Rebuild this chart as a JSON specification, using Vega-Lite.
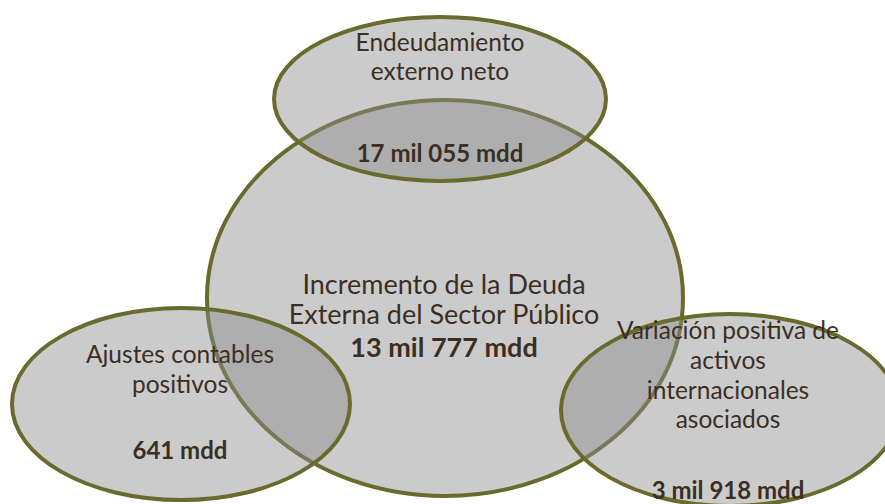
{
  "$schema": "https://vega.github.io/schema/vega-lite/v6.json",
  "width": 885,
  "height": 504,
  "autosize": "none",
  "padding": 0,
  "background": "white",
  "config": {"view": {"stroke": null}},
  "datasets": {
    "shapes": [
      {"name": "Incremento", "cx": 445, "cy": 298},
      {"name": "Endeudamiento", "cx": 440, "cy": 99},
      {"name": "Ajustes", "cx": 181, "cy": 404},
      {"name": "Variacion", "cx": 730, "cy": 410}
    ],
    "labels": [
      {"text": "Endeudamiento", "cx": 440, "cy": 44, "kind": "normal"},
      {"text": "externo neto", "cx": 440, "cy": 73, "kind": "normal"},
      {"text": "17 mil 055 mdd", "cx": 440, "cy": 155, "kind": "bold"},
      {"text": "Incremento de la Deuda", "cx": 444, "cy": 286, "kind": "main"},
      {"text": "Externa del Sector Público", "cx": 444, "cy": 316, "kind": "main"},
      {"text": "13 mil 777 mdd", "cx": 444, "cy": 349, "kind": "mainbold"},
      {"text": "Ajustes contables", "cx": 180, "cy": 356, "kind": "normal"},
      {"text": "positivos", "cx": 180, "cy": 386, "kind": "normal"},
      {"text": "641 mdd", "cx": 180, "cy": 452, "kind": "bold"},
      {"text": "Variación positiva de", "cx": 728, "cy": 332, "kind": "normal"},
      {"text": "activos", "cx": 728, "cy": 362, "kind": "normal"},
      {"text": "internacionales", "cx": 728, "cy": 392, "kind": "normal"},
      {"text": "asociados", "cx": 728, "cy": 421, "kind": "normal"},
      {"text": "3 mil 918 mdd", "cx": 728, "cy": 492, "kind": "bold"}
    ]
  },
  "layer": [
    {
      "data": {"name": "shapes"},
      "mark": {"type": "point", "filled": true, "fill": "#8c8c8c", "fillOpacity": 0.45, "stroke": "#6a6a2e", "strokeWidth": 4, "strokeOpacity": 1, "opacity": 1, "size": 4},
      "encoding": {
        "x": {"field": "cx", "type": "quantitative", "scale": {"domain": [0, 885]}, "axis": null},
        "y": {"field": "cy", "type": "quantitative", "scale": {"domain": [0, 504], "reverse": true}, "axis": null},
        "shape": {
          "field": "name", "type": "nominal", "legend": null,
          "scale": {
            "domain": ["Incremento", "Endeudamiento", "Ajustes", "Variacion"],
            "range": [
              "M-238,0A238,198 0 1,0 238,0A238,198 0 1,0 -238,0Z",
              "M-166,0A166,82 0 1,0 166,0A166,82 0 1,0 -166,0Z",
              "M-169,0A169,96 0 1,0 169,0A169,96 0 1,0 -169,0Z",
              "M-169,0A169,96 0 1,0 169,0A169,96 0 1,0 -169,0Z"
            ]
          }
        }
      }
    },
    {
      "data": {"name": "labels"},
      "transform": [{"filter": "datum.kind == 'normal'"}],
      "mark": {"type": "text", "font": "Lato", "fontSize": 24.5, "color": "#3b2f24", "align": "center", "baseline": "middle"},
      "encoding": {
        "x": {"field": "cx", "type": "quantitative", "scale": {"domain": [0, 885]}, "axis": null},
        "y": {"field": "cy", "type": "quantitative", "scale": {"domain": [0, 504], "reverse": true}, "axis": null},
        "text": {"field": "text"}
      }
    },
    {
      "data": {"name": "labels"},
      "transform": [{"filter": "datum.kind == 'main'"}],
      "mark": {"type": "text", "font": "Lato", "fontSize": 27, "color": "#3b2f24", "align": "center", "baseline": "middle"},
      "encoding": {
        "x": {"field": "cx", "type": "quantitative", "scale": {"domain": [0, 885]}, "axis": null},
        "y": {"field": "cy", "type": "quantitative", "scale": {"domain": [0, 504], "reverse": true}, "axis": null},
        "text": {"field": "text"}
      }
    },
    {
      "data": {"name": "labels"},
      "transform": [{"filter": "datum.kind == 'bold'"}],
      "mark": {"type": "text", "font": "Lato", "fontSize": 24, "fontWeight": "bold", "color": "#3b2f24", "align": "center", "baseline": "middle"},
      "encoding": {
        "x": {"field": "cx", "type": "quantitative", "scale": {"domain": [0, 885]}, "axis": null},
        "y": {"field": "cy", "type": "quantitative", "scale": {"domain": [0, 504], "reverse": true}, "axis": null},
        "text": {"field": "text"}
      }
    },
    {
      "data": {"name": "labels"},
      "transform": [{"filter": "datum.kind == 'mainbold'"}],
      "mark": {"type": "text", "font": "Lato", "fontSize": 27, "fontWeight": "bold", "color": "#3b2f24", "align": "center", "baseline": "middle"},
      "encoding": {
        "x": {"field": "cx", "type": "quantitative", "scale": {"domain": [0, 885]}, "axis": null},
        "y": {"field": "cy", "type": "quantitative", "scale": {"domain": [0, 504], "reverse": true}, "axis": null},
        "text": {"field": "text"}
      }
    }
  ]
}
